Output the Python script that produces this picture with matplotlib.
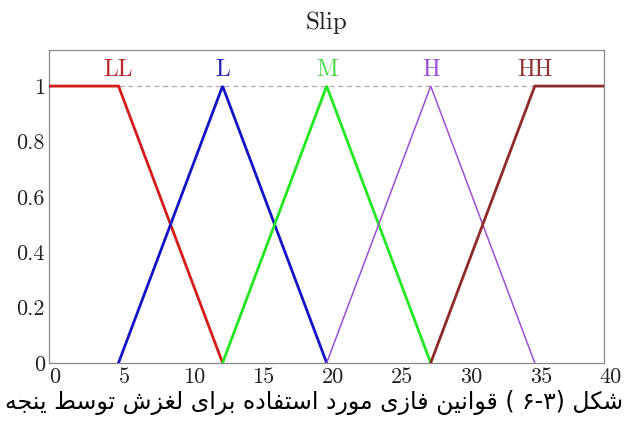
import matplotlib
matplotlib.use("Agg")
import matplotlib.pyplot as plt
from matplotlib.transforms import ScaledTranslation

# membership functions for slip (trapezoid ends, triangles in between)
x_max = 40
names = ["LL", "L", "M", "H", "HH"]
mf_x = [[0, 5, 12.5], [5, 12.5, 20], [12.5, 20, 27.5], [20, 27.5, 35], [27.5, 35, 40]]
mf_y = [[1, 1, 0], [0, 1, 0], [0, 1, 0], [0, 1, 0], [0, 1, 1]]
name_x = [5, 12.5, 20, 27.5, 35]
colors = ["#d41c1c", "#1414c4", "#22e622", "#9a4fd6", "#8e2a2a"]
text_colors = ["#c0262c", "#2323b0", "#44dd44", "#9a4fd6", "#8e3434"]
widths = [2.0, 2.0, 2.0, 1.1, 2.0]

xticks = [0, 5, 10, 15, 20, 25, 30, 35, 40]
yticks = [0, 0.2, 0.4, 0.6, 0.8, 1]

caption_words = ["شکل", "( ۶-۳)", "قوانین", "فازی", "مورد", "استفاده", "برای", "لغزش", "توسط", "ینجه"]

# arabic presentation forms: isolated, final, initial, medial
FORMS = {
    "ا": ("\uFE8D", "\uFE8E", None, None),
    "د": ("\uFEA9", "\uFEAA", None, None),
    "ر": ("\uFEAD", "\uFEAE", None, None),
    "ز": ("\uFEAF", "\uFEB0", None, None),
    "و": ("\uFEED", "\uFEEE", None, None),
    "ب": ("\uFE8F", "\uFE90", "\uFE91", "\uFE92"),
    "ت": ("\uFE95", "\uFE96", "\uFE97", "\uFE98"),
    "ج": ("\uFE9D", "\uFE9E", "\uFE9F", "\uFEA0"),
    "س": ("\uFEB1", "\uFEB2", "\uFEB3", "\uFEB4"),
    "ش": ("\uFEB5", "\uFEB6", "\uFEB7", "\uFEB8"),
    "ط": ("\uFEC1", "\uFEC2", "\uFEC3", "\uFEC4"),
    "غ": ("\uFECD", "\uFECE", "\uFECF", "\uFED0"),
    "ف": ("\uFED1", "\uFED2", "\uFED3", "\uFED4"),
    "ق": ("\uFED5", "\uFED6", "\uFED7", "\uFED8"),
    "ل": ("\uFEDD", "\uFEDE", "\uFEDF", "\uFEE0"),
    "م": ("\uFEE1", "\uFEE2", "\uFEE3", "\uFEE4"),
    "ن": ("\uFEE5", "\uFEE6", "\uFEE7", "\uFEE8"),
    "ه": ("\uFEE9", "\uFEEA", "\uFEEB", "\uFEEC"),
    "ک": ("\uFB8E", "\uFB8F", "\uFB90", "\uFB91"),
    "ی": ("\uFBFC", "\uFBFD", "\uFBFE", "\uFBFF"),
}


def shape(word):
    # join letters and return them in visual (left to right) order
    out = []
    for i, ch in enumerate(word):
        if ch not in FORMS:
            out.append(ch)
            continue
        prev = word[i - 1] if i > 0 else None
        nxt = word[i + 1] if i + 1 < len(word) else None
        iso, fin, ini, med = FORMS[ch]
        j_prev = prev in FORMS and FORMS[prev][2] is not None
        j_next = nxt in FORMS and ini is not None
        if j_prev and j_next:
            out.append(med)
        elif j_prev:
            out.append(fin)
        elif j_next:
            out.append(ini)
        else:
            out.append(iso)
    return "".join(reversed(out))


def visual(words):
    parts = [shape(w) if any(c in FORMS for c in w) else w for w in reversed(words)]
    return " ".join(parts)


plt.rcParams["font.family"] = "cmr10"
plt.rcParams["axes.formatter.use_mathtext"] = True

fig = plt.figure(figsize=(6.3, 4.21), dpi=100)
ax = fig.add_axes([0.078, 0.138, 0.881, 0.743])

ax.axhline(1, color="#aaaaaa", lw=0.9, ls=(0, (4, 3)), zorder=1)
for i in range(len(names)):
    ax.plot(mf_x[i], mf_y[i], color=colors[i], lw=widths[i], zorder=3,
            solid_joinstyle="miter")
    ax.text(name_x[i], 1.06, names[i], color=text_colors[i], fontsize=17,
            ha="center", va="center")

ax.set_xlim(0, x_max)
ax.set_ylim(0, 1.13)
ax.set_xticks(xticks)
ax.set_xticklabels([str(t) for t in xticks])
ax.set_yticks(yticks)
ax.set_yticklabels(["%g" % t for t in yticks])
ax.tick_params(length=0, labelsize=16, colors="#222222", pad=3)
for s in ax.spines.values():
    s.set_color("#888888")
    s.set_linewidth(0.9)

shift = ScaledTranslation(0.06, 0, fig.dpi_scale_trans)
for lbl in ax.get_xticklabels():
    lbl.set_transform(lbl.get_transform() + shift)

ax.set_title("Slip", fontsize=18, pad=15, color="#222222")

fig.text(0.499, 0.045, visual(caption_words), family="DejaVu Sans",
         fontsize=17, ha="center", va="center")

fig.savefig("out.png", dpi=100)
